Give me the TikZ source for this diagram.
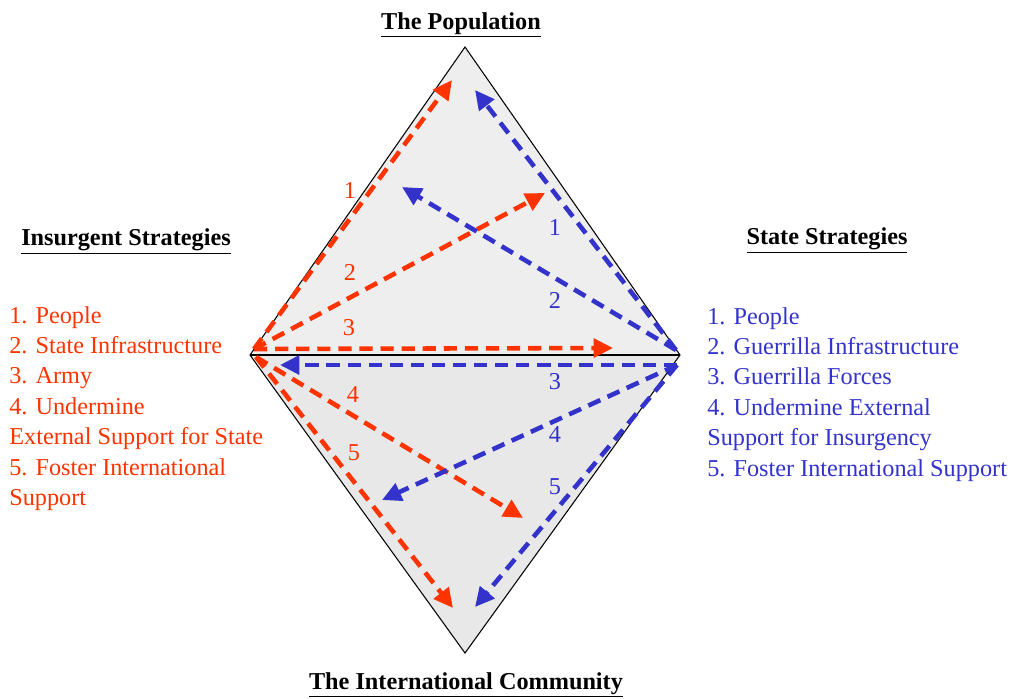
\documentclass[tikz,border=0pt]{standalone}
\usepackage{fontspec}
\setmainfont{Liberation Serif}
\usetikzlibrary{arrows.meta}
\definecolor{insred}{RGB}{255,51,0}
\definecolor{stblue}{RGB}{51,51,204}
\definecolor{popfill}{RGB}{238,238,238}
\definecolor{intfill}{RGB}{232,232,232}

\begin{document}
\begin{tikzpicture}[x=0.02cm, y=-0.02cm,
    heading/.style={font=\fontsize{13.8}{16}\selectfont\bfseries, inner sep=0pt},
    strategies/.style={anchor=north west, align=left, inner sep=0pt, font=\fontsize{13.8}{17.3}\selectfont},
    num/.style={font=\fontsize{13.8}{16}\selectfont, inner sep=0pt},
    move/.style={line width=2.6pt, dash pattern=on 7.5pt off 4.5pt, -{Triangle[length=11pt,width=10.5pt]}},
  ]
    \useasboundingbox (0,0) rectangle (1015,698);
    % diamond
    \coordinate (pop) at (465,47);
    \coordinate (ins) at (250,355);
    \coordinate (sta) at (680,355);
    \coordinate (intl) at (465,653);
    \fill[popfill] (ins) -- (pop) -- (sta) -- cycle;
    \fill[intfill] (ins) -- (intl) -- (sta) -- cycle;
    \draw[line width=0.6pt] (ins) -- (pop) -- (sta) -- (intl) -- cycle;
    \draw[line width=0.6pt] (ins) -- (sta);
    % headings
    \node[heading] (popt) at (461,25) {\underline{The Population}};
    \node[heading] (intt) at (466,685) {\underline{The International Community}};
    \node[heading] (inst) at (126,242) {\underline{Insurgent Strategies}};
    \node[heading] (stat) at (827,241) {\underline{State Strategies}};
    % strategy lists
    \node[strategies, text=insred] (inslist) at (9,306) {1. People\\2. State Infrastructure\\3. Army\\4. Undermine\\External Support for State\\5. Foster International\\Support};
    \node[strategies, text=stblue] (stalist) at (707,307) {1. People\\2. Guerrilla Infrastructure\\3. Guerrilla Forces\\4. Undermine External\\Support for Insurgency\\5. Foster International Support};
    % insurgent moves
    \coordinate (insup) at (254,349);
    \coordinate (insdn) at (256,357);
    \coordinate (r1) at (452,80);
    \coordinate (r2) at (545,193);
    \coordinate (r3) at (613,348);
    \coordinate (r4) at (523,518);
    \coordinate (r5) at (453,608);
    \draw[move, insred] (insup) -- (r1);
    \draw[move, insred] (insup) -- (r2);
    \draw[move, insred] (insup) -- (r3);
    \draw[move, insred] (insdn) -- (r4);
    \draw[move, insred] (insdn) -- (r5);
    \node[num, text=insred] (nr1) at (350,190) {1};
    \node[num, text=insred] (nr2) at (350,272) {2};
    \node[num, text=insred] (nr3) at (349,328) {3};
    \node[num, text=insred] (nr4) at (353,395) {4};
    \node[num, text=insred] (nr5) at (354,453) {5};
    % state moves
    \coordinate (staup) at (676,350);
    \coordinate (stadn) at (677,365);
    \coordinate (b1) at (475,90);
    \coordinate (b2) at (402,187);
    \coordinate (b3) at (280,365);
    \coordinate (b4) at (382,500);
    \coordinate (b5) at (475,607);
    \draw[move, stblue] (staup) -- (b1);
    \draw[move, stblue] (staup) -- (b2);
    \draw[move, stblue] (stadn) -- (b3);
    \draw[move, stblue] (stadn) -- (b4);
    \draw[move, stblue] (stadn) -- (b5);
    \node[num, text=stblue] (nb1) at (555,227) {1};
    \node[num, text=stblue] (nb2) at (555,300) {2};
    \node[num, text=stblue] (nb3) at (555,382) {3};
    \node[num, text=stblue] (nb4) at (555,435) {4};
    \node[num, text=stblue] (nb5) at (555,487) {5};
\end{tikzpicture}
\end{document}
